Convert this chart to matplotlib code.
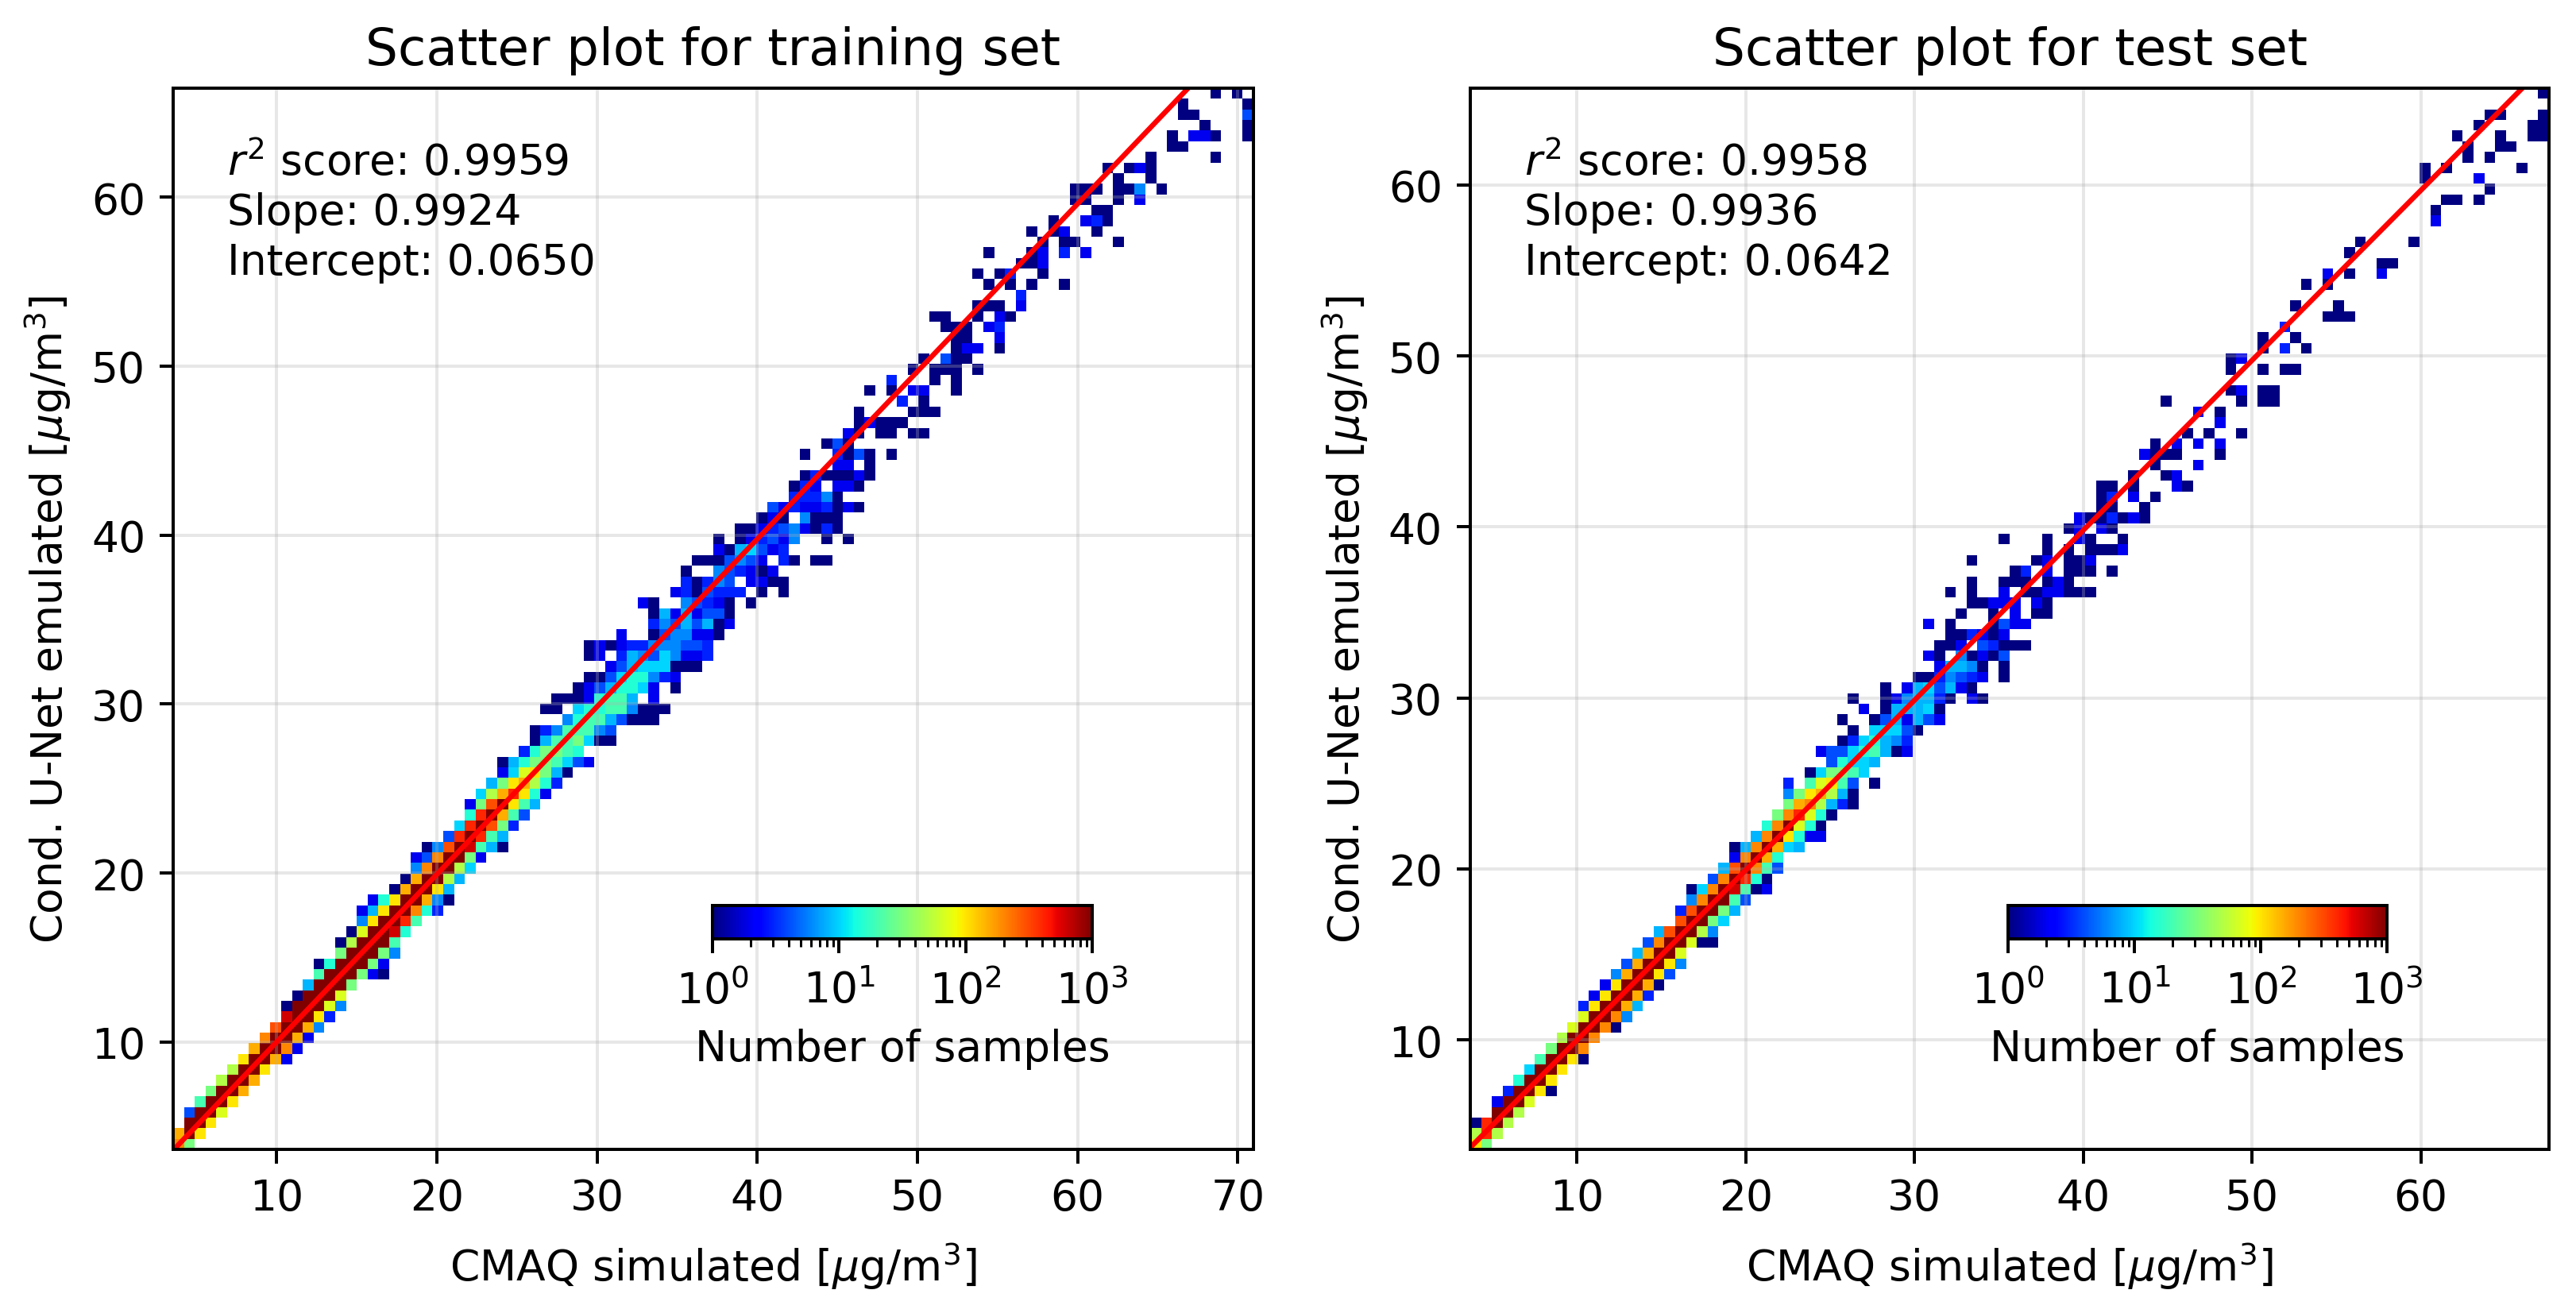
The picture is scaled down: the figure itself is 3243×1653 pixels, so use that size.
import numpy as np
import matplotlib
matplotlib.use("Agg")
import matplotlib.pyplot as plt
from matplotlib.colors import LogNorm

# sample count for each letter used in the row strings below, '.' is an empty cell
level_keys = "abcdefghijklmnopqrs"
level_counts = [1, 2, 3, 4, 6, 8, 10, 15, 20, 30, 50, 70, 100, 150, 200, 300, 400, 600, 1000]

train_xlim = [3.55, 70.97]
train_ylim = [3.64, 66.45]
train_score = [0.9959, 0.9924, 0.0650]
train_xticks = [10, 20, 30, 40, 50, 60, 70]

# first column of every histogram row, bottom row first
train_start = [
    0, 0, 1, 1, 2, 3, 4, 5, 6, 7, 8, 9, 10, 10, 11, 12, 13, 13, 15, 15,
    16, 17, 17, 18, 20, 21, 22, 22, 23, 25, 26, 27, 27, 28, 29, 30, 30, 32, 33, 33,
    36, 34, 35, 37, 38, 40, 38, 38, 41, 44, 44, 43, 46, 47, 47, 48, 50, 50, 52, 54,
    55, 57, 57, 58, 61, 58, 60, 62, 63, 63, 67, 64, 66, 68, 69, 72, 72, 71, 70, 74,
    78, 75, 74, 78, 75, 80, 79, 81, 85, 83, 83, 87, 86, 90, 92, 92, 95, 93, 93, 96,
]
train_cells = [
    "oj", "nsm", "ssm", "dssl", "issm", "jssn", "kssn", "kssm", "mssnb", "nssob",
    "ossnb", "pssne", "rssmc", "asssle", "asssl", "fsssj", "isssjba", "ahsssjb", "jsssje", "aksssi",
    "alssrh", "emssqi", "bfmssohc", "bhmssnea", "anssmf", "ansskf", "eosskg", "bdossjb", "aepsrifa", "dqsqif",
    "gqspjc", "hqsnid", "bjpsmif", "gknqmhb", "fjmnkhc", "bglmjfa", "afhjjigdb", "chjjih", "afiijgaa", "aceiiied",
    "ehiifdaaa", "aa.ghhiieaaa", "aaabhiif.b", "abdfhhgb.a", "aadghhecb", "bdfgggaaa", "ab.cfedgebbc", "ababcceeeddc", "b..adeebba", "cedfdfab",
    "afbfbdda", "ba..edcba.a", "bcadccc.a.a", "caced.bbaa", "a..edcbab", "aaadedb.ca.aa", "bafgdbc", "a.abcdbe..a.a", "aabcdebaca", "aba.eaaa",
    "dbcbbcaba", "cccea", "acb.bba", "acaaaba", "bb.a", "a..cada.a", "ada", "ba.aa.aa", "abaaa", "a....aaa",
    "c.a", "a.a.bb..a", "c...a.a", "a.aaa.a", "a.daa", "abb.a", "aa..b", "aaa.bc", "aa..a.ba", "aaa.b",
    "c", "a.a.a..a", "a.ac..a", "aab", "a...ab.c.b", "a.aa...a", "a.ab..a", "a..bca", "aa", "aa..a.b",
    "aaa.aae.a", "a..a", "a.aba", "a.....a", "aa", "a.bba..a", "a...a", "aa....d", "a.....a", "a.a",
]

test_xlim = [3.67, 67.6]
test_ylim = [3.6, 65.66]
test_score = [0.9958, 0.9936, 0.0642]
test_xticks = [10, 20, 30, 40, 50, 60]

test_start = [
    0, 0, 0, 2, 2, 3, 4, 5, 6, 7, 8, 9, 10, 10, 11, 12, 13, 14, 15, 16,
    17, 19, 19, 20, 20, 22, 23, 24, 24, 26, 27, 28, 29, 29, 29, 31, 33, 32, 34, 35,
    34, 36, 35, 38, 41, 43, 42, 43, 44, 42, 45, 46, 44, 46, 50, 46, 53, 49, 55, 56,
    58, 58, 58, 61, 63, 62, 63, 66, 69, 67, 64, 70, 0, 70, 70, 73, 73, 75, 79, 76,
    0, 77, 79, 84, 81, 82, 0, 89, 89, 90, 94, 88, 88, 92, 92, 91, 93, 94, 0, 99,
]
test_cells = [
    "mj", "kqk", "aqsk", "ssk", "bssl", "cssma", "hssm", "gssm", "issma", "jsso",
    "ksso", "lssoa", "lssoe", "cmssnf", "bmssnc", "bmssna", "enssmd", "dnssme", "fnssl", "dosslaa",
    "fpsske", "pssjg", "cpssjf", "eossid", "agosriab", "dosqha", "fpsoid", "bosnh", "afosngf", "fosmhbb",
    "hoslha", "joqlha", "jnokfca", "ejmnkfa", "c.ilmid.a", "agjjig", "dhggf", "bddghifab", "acghfec", "a.gggda",
    "a..adfbfdb", "b.afffga", "a..abeffca.ba", "a.bfgdfba", "aacedcb.a", "bffea.a", "ba.eabad", "aab.dcaaa", "aacbab", "b.a...adbb",
    "a..a.b.aa", "aabbb.ba", "a.a..b.aabbaaa", "a..aaa.aba", "ac.b.aaa.a", "a.....ab.aab", "a.a.aaab", "a...a..ba..a", "ab.ba", "baacaba",
    "aa..a", "ac.b.a", "aa.a...ba", "a..ab", "a...b", "baaa...a", "a.b.b.b", "a.a..a", "b", "b.a",
    "a......a.aa", "ab.aa", "", "a..a.aa", "ab", "a.c.a", "a..a", "c", "aaa", "a...a",
    "", "a.a", "b.a..b", "aa", "a", "a....a", "", "b", "a", "aa.a",
    "a", "a....b", "a.a......a", "a.a", "a..aa", "a...a..aa", "a....aa", "aa...a", "", "a",
]


def build_counts(starts, cells):
    lookup = dict(zip(level_keys, level_counts))
    counts = np.zeros((100, 100))
    for row, (first, text) in enumerate(zip(starts, cells)):
        for k, ch in enumerate(text):
            if ch != ".":
                counts[row, first + k] = lookup[ch]
    return np.ma.masked_equal(counts, 0)


W, H = 3243, 1654
DPI = 360
FS = 10.7
fig = plt.figure(figsize=(W / DPI, H / DPI), dpi=DPI)


def draw_panel(box, cbar_box, title, xlim, ylim, xticks, score, starts, cells):
    x0, x1, y0, y1 = box
    ax = fig.add_axes([x0 / W, 1 - y1 / H, (x1 - x0) / W, (y1 - y0) / H])
    xedges = np.linspace(xlim[0], xlim[1], 101)
    yedges = np.linspace(ylim[0], ylim[1], 101)
    mesh = ax.pcolormesh(xedges, yedges, build_counts(starts, cells), cmap="jet",
                         norm=LogNorm(vmin=1, vmax=1000), rasterized=True)
    xs = np.array(xlim)
    ax.plot(xs, score[1] * xs + score[2], color="red", lw=1.3)
    ax.set_xlim(xlim)
    ax.set_ylim(ylim)
    ax.set_xticks(xticks)
    ax.set_yticks([10, 20, 30, 40, 50, 60])
    ax.tick_params(labelsize=FS)
    ax.grid(alpha=0.3, lw=0.8)
    ax.set_title(title, fontsize=12.9)
    ax.set_xlabel(r"CMAQ simulated [$\mu$g/m$^3$]", fontsize=FS, labelpad=5.5)
    ax.set_ylabel(r"Cond. U-Net emulated [$\mu$g/m$^3$]", fontsize=FS, labelpad=4.5)
    ax.text(0.05, 0.95,
            "$r^2$ score: %.4f\nSlope: %.4f\nIntercept: %.4f" % tuple(score),
            transform=ax.transAxes, va="top", ha="left", fontsize=FS, linespacing=1.26)

    cx0, cx1, cy0, cy1 = cbar_box
    cax = fig.add_axes([cx0 / W, 1 - cy1 / H, (cx1 - cx0) / W, (cy1 - cy0) / H])
    cbar = fig.colorbar(mesh, cax=cax, orientation="horizontal")
    cbar.ax.tick_params(labelsize=FS, pad=4.2)
    cbar.set_label("Number of samples", fontsize=FS)


draw_panel((218, 1578, 112, 1448), (897, 1375, 1141, 1183), "Scatter plot for training set",
           train_xlim, train_ylim, train_xticks, train_score, train_start, train_cells)
draw_panel((1851, 3209, 112, 1448), (2528, 3005, 1141, 1183), "Scatter plot for test set",
           test_xlim, test_ylim, test_xticks, test_score, test_start, test_cells)

fig.savefig("out.png", dpi=DPI)
